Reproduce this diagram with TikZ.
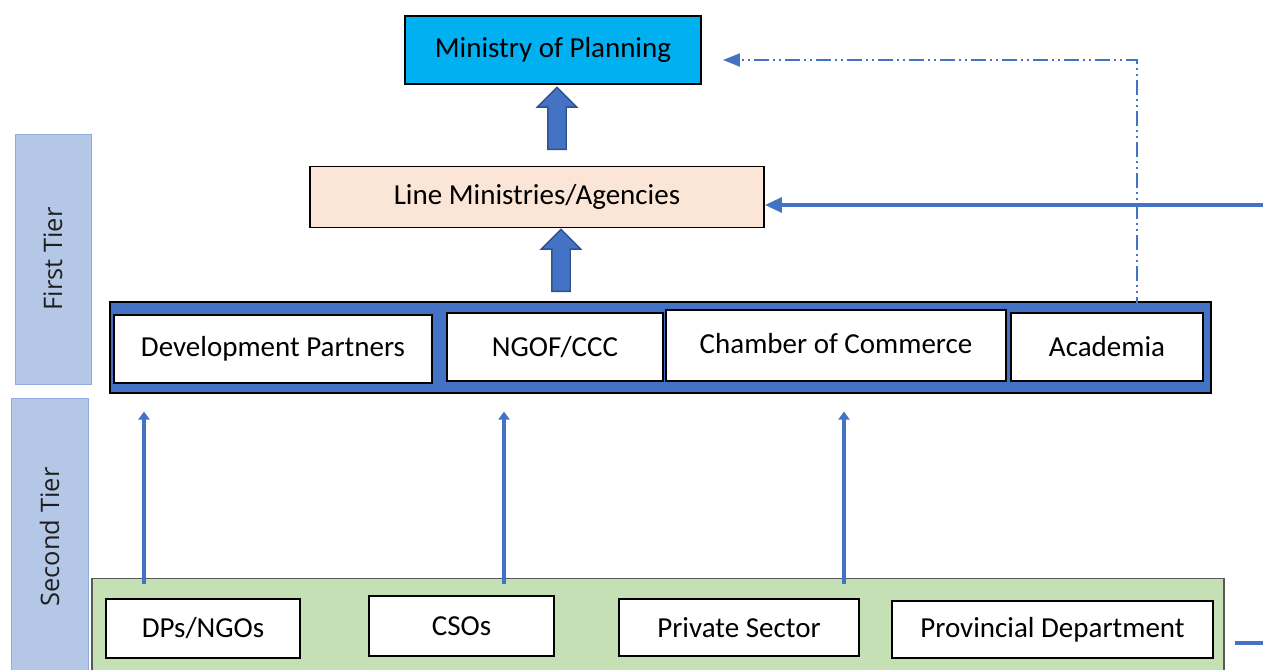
\documentclass[tikz,border=0pt]{standalone}
\usepackage{fontspec}
\setmainfont{Carlito}
\newfontfamily\tierfont{Open Sans}
\usepackage{tikz}
\usetikzlibrary{arrows.meta,positioning,shapes.arrows,calc}
\definecolor{planfill}{RGB}{0,176,240}
\definecolor{linefill}{RGB}{251,229,214}
\definecolor{bandblue}{RGB}{68,114,196}
\definecolor{bandgreen}{RGB}{197,224,180}
\definecolor{tierfill}{RGB}{180,199,231}
\definecolor{tieredge}{RGB}{143,170,220}
\definecolor{arrowedge}{RGB}{47,82,143}
\tikzset{
  org/.style     ={draw, line width=1.1pt, fill=white, align=center, font=\fontsize{16.5}{19}\selectfont, inner sep=2pt},
  band/.style    ={draw, line width=0.6pt},
  tier/.style    ={draw=tieredge, fill=tierfill, rotate=90, font=\tierfont\fontsize{14.5}{17}\selectfont, text=black!88},
  bigup/.style   ={single arrow, rotate=90, draw=arrowedge, line width=0.8pt, fill=bandblue, inner sep=0.17cm,
                   single arrow head extend=0.21cm, minimum height=1.24cm},
  flow/.style    ={-{Triangle[length=1.6mm,width=2.2mm]}, draw=bandblue, line width=2.1pt},
  feed/.style    ={-{Triangle[length=3.4mm,width=3mm]}, draw=bandblue, line width=1.9pt},
  backfeed/.style={-{Triangle[length=3.4mm,width=2.6mm]}, draw=bandblue, line width=1.2pt,
                   dash pattern=on 3mm off 0.8mm on 0.4mm off 0.8mm on 0.4mm off 0.8mm}
}

\begin{document}
\begin{tikzpicture}
  \useasboundingbox (0,0) rectangle (25.26,-13.38);
  \clip (0,0) rectangle (25.26,-13.38);
  % tier labels on the left
  \node[tier, minimum width=5.0cm, minimum height=1.52cm] (first) at (1.06,-5.18) {First Tier};
  \node[tier, minimum width=5.56cm, minimum height=1.54cm] (second) at (0.99,-10.74) {Second Tier};
  % top of the hierarchy
  \node[org, fill=planfill, minimum width=5.92cm, minimum height=1.36cm] (mop) at (11.06,-1.0) {Ministry of Planning};
  \node[org, fill=linefill, minimum width=9.08cm, minimum height=1.22cm] (lm) at (10.74,-3.94) {Line Ministries/Agencies};
  % first tier band
  \node[band, fill=bandblue, minimum width=22.02cm, minimum height=1.82cm] (tierone) at (13.21,-6.95) {};
  \node[org, minimum width=6.36cm, minimum height=1.36cm] (dev) at (5.46,-6.98) {Development Partners};
  \node[org, minimum width=4.32cm, minimum height=1.36cm] (ngof) at (11.1,-6.94) {NGOF/CCC};
  \node[org, minimum width=6.8cm, minimum height=1.42cm] (chamber) at (16.72,-6.91) {\raisebox{0.1cm}{Chamber of Commerce}};
  \node[org, minimum width=3.84cm, minimum height=1.36cm] (acad) at (22.14,-6.94) {Academia};
  % second tier band
  \node[band, draw=black!65, fill=bandgreen, minimum width=22.64cm, minimum height=1.98cm] (tiertwo) at (13.16,-12.56) {};
  \node[org, minimum width=3.88cm, minimum height=1.18cm] (dps) at (4.06,-12.57) {DPs/NGOs};
  \node[org, minimum width=3.7cm, minimum height=1.2cm] (cso) at (9.23,-12.52) {CSOs};
  \node[org, minimum width=4.8cm, minimum height=1.14cm] (priv) at (14.78,-12.55) {Private Sector};
  \node[org, minimum width=6.42cm, minimum height=1.14cm] (prov) at (21.05,-12.59) {Provincial Department};
  % block arrows up the chain
  \node[bigup] (upone) at (11.14,-2.46) {};
  \node[bigup] (uptwo) at (11.22,-5.3) {};
  % second tier feeding the first
  \foreach \x in {2.88,10.08,16.88}
    \draw[flow, shorten <=-0.12cm, shorten >=0.36cm] (tiertwo.north -| \x,0) -- (tierone.south -| \x,0);
  \coordinate (edge) at (25.8,-12.86);
  \draw[feed] ($(tiertwo.east |- edge)+(0.2,0)$) -- (edge) |- ([yshift=-0.16cm]lm.east);
  \draw[backfeed] ([xshift=0.6cm]acad.north) |- ([xshift=0.42cm,yshift=-0.2cm]mop.east);
\end{tikzpicture}
\end{document}
